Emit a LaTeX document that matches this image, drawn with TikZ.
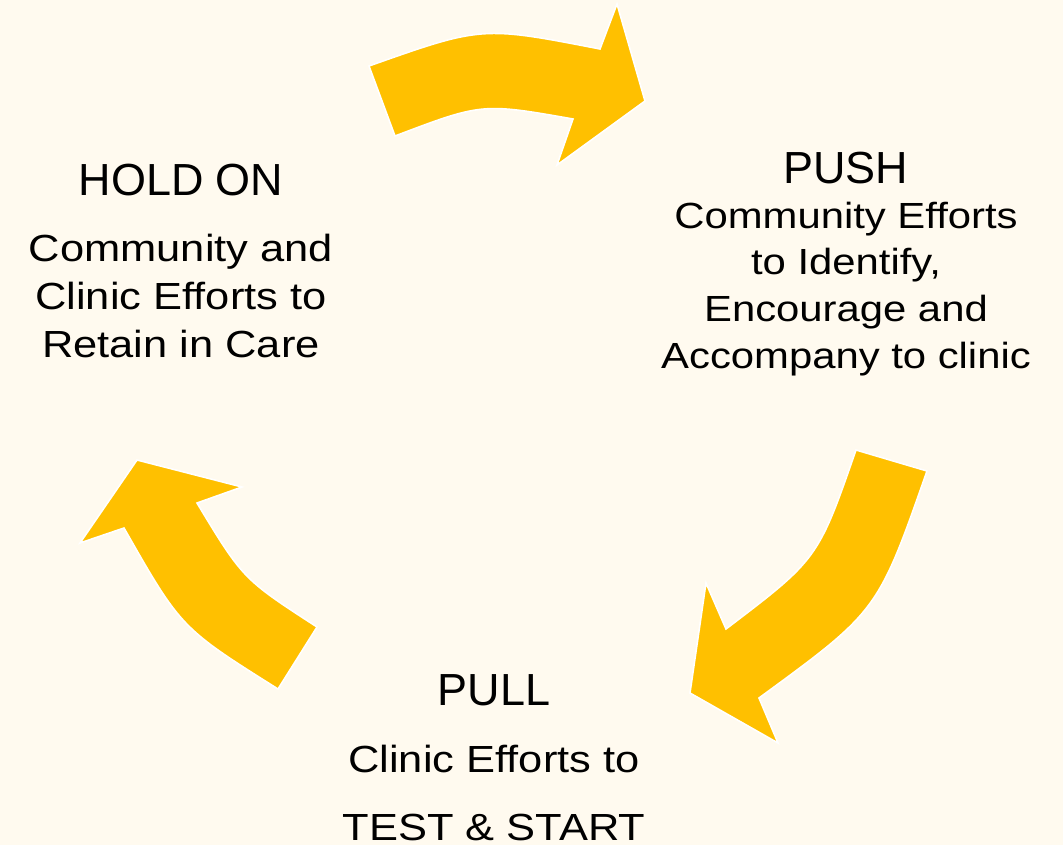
\documentclass[tikz,border=0pt]{standalone}
\usepackage{fontspec}
\setmainfont{Liberation Sans}
\newfontfamily\widesans[FakeStretch=1.15]{Liberation Sans}
\usepackage{tikz}
\usetikzlibrary{positioning}
\definecolor{cream}{RGB}{255,250,239}
\definecolor{gold}{RGB}{255,192,0}

\begin{document}
\begin{tikzpicture}[x=0.02cm,y=-0.02cm]
\tikzset{
  cyclearrow/.style={fill=gold,draw=white,line width=0.9pt,line join=miter},
  headline/.style={inner sep=0pt,font=\fontsize{25.6}{30}\selectfont},
  bodytext/.style={inner sep=0pt,align=center,
                   font=\widesans\fontsize{21.5}{27.3}\selectfont}
}
\fill[cream] (0,0) rectangle (1063,845);
\useasboundingbox (0,0) rectangle (1063,845);

% the three block arrows of the cycle
\draw[cyclearrow] (369,66) .. controls (482,26) .. (600,49) -- (617,4) -- (645,101)
  -- (557,165) -- (573,119) .. controls (482,103) .. (395,136) -- cycle;
\draw[cyclearrow] (927,471) .. controls (878,611) .. (759,698) -- (778,743) -- (690,693)
  -- (706,583) -- (726,629) .. controls (818,559) .. (856,450) -- cycle;
\draw[cyclearrow] (278,689) .. controls (181,628) .. (124,528) -- (80,543) -- (137,460)
  -- (242,487) -- (197,503) .. controls (243,579) .. (317,627) -- cycle;

% labels (base of a text block = base of its last line)
\node[headline,anchor=base] (holdon) at (181,195) {HOLD ON};
\node[bodytext,below=92.7pt of holdon.base,anchor=base] (holdontxt)
  {Community and\\Clinic Efforts to\\Retain in Care};

\node[headline,anchor=base] (push) at (846,183) {PUSH};
\node[bodytext,font=\widesans\fontsize{20.7}{26.5}\selectfont,
      below=105.3pt of push.base,anchor=base] (pushtxt)
  {Community Efforts\\to Identify,\\Encourage and\\Accompany to clinic};

\node[headline,anchor=base] (pull) at (494,705) {PULL};
\node[bodytext,font=\widesans\fontsize{21.5}{38.5}\selectfont,
      below=77pt of pull.base,anchor=base] (pulltxt)
  {Clinic Efforts to\\TEST \& START};
\end{tikzpicture}
\end{document}
